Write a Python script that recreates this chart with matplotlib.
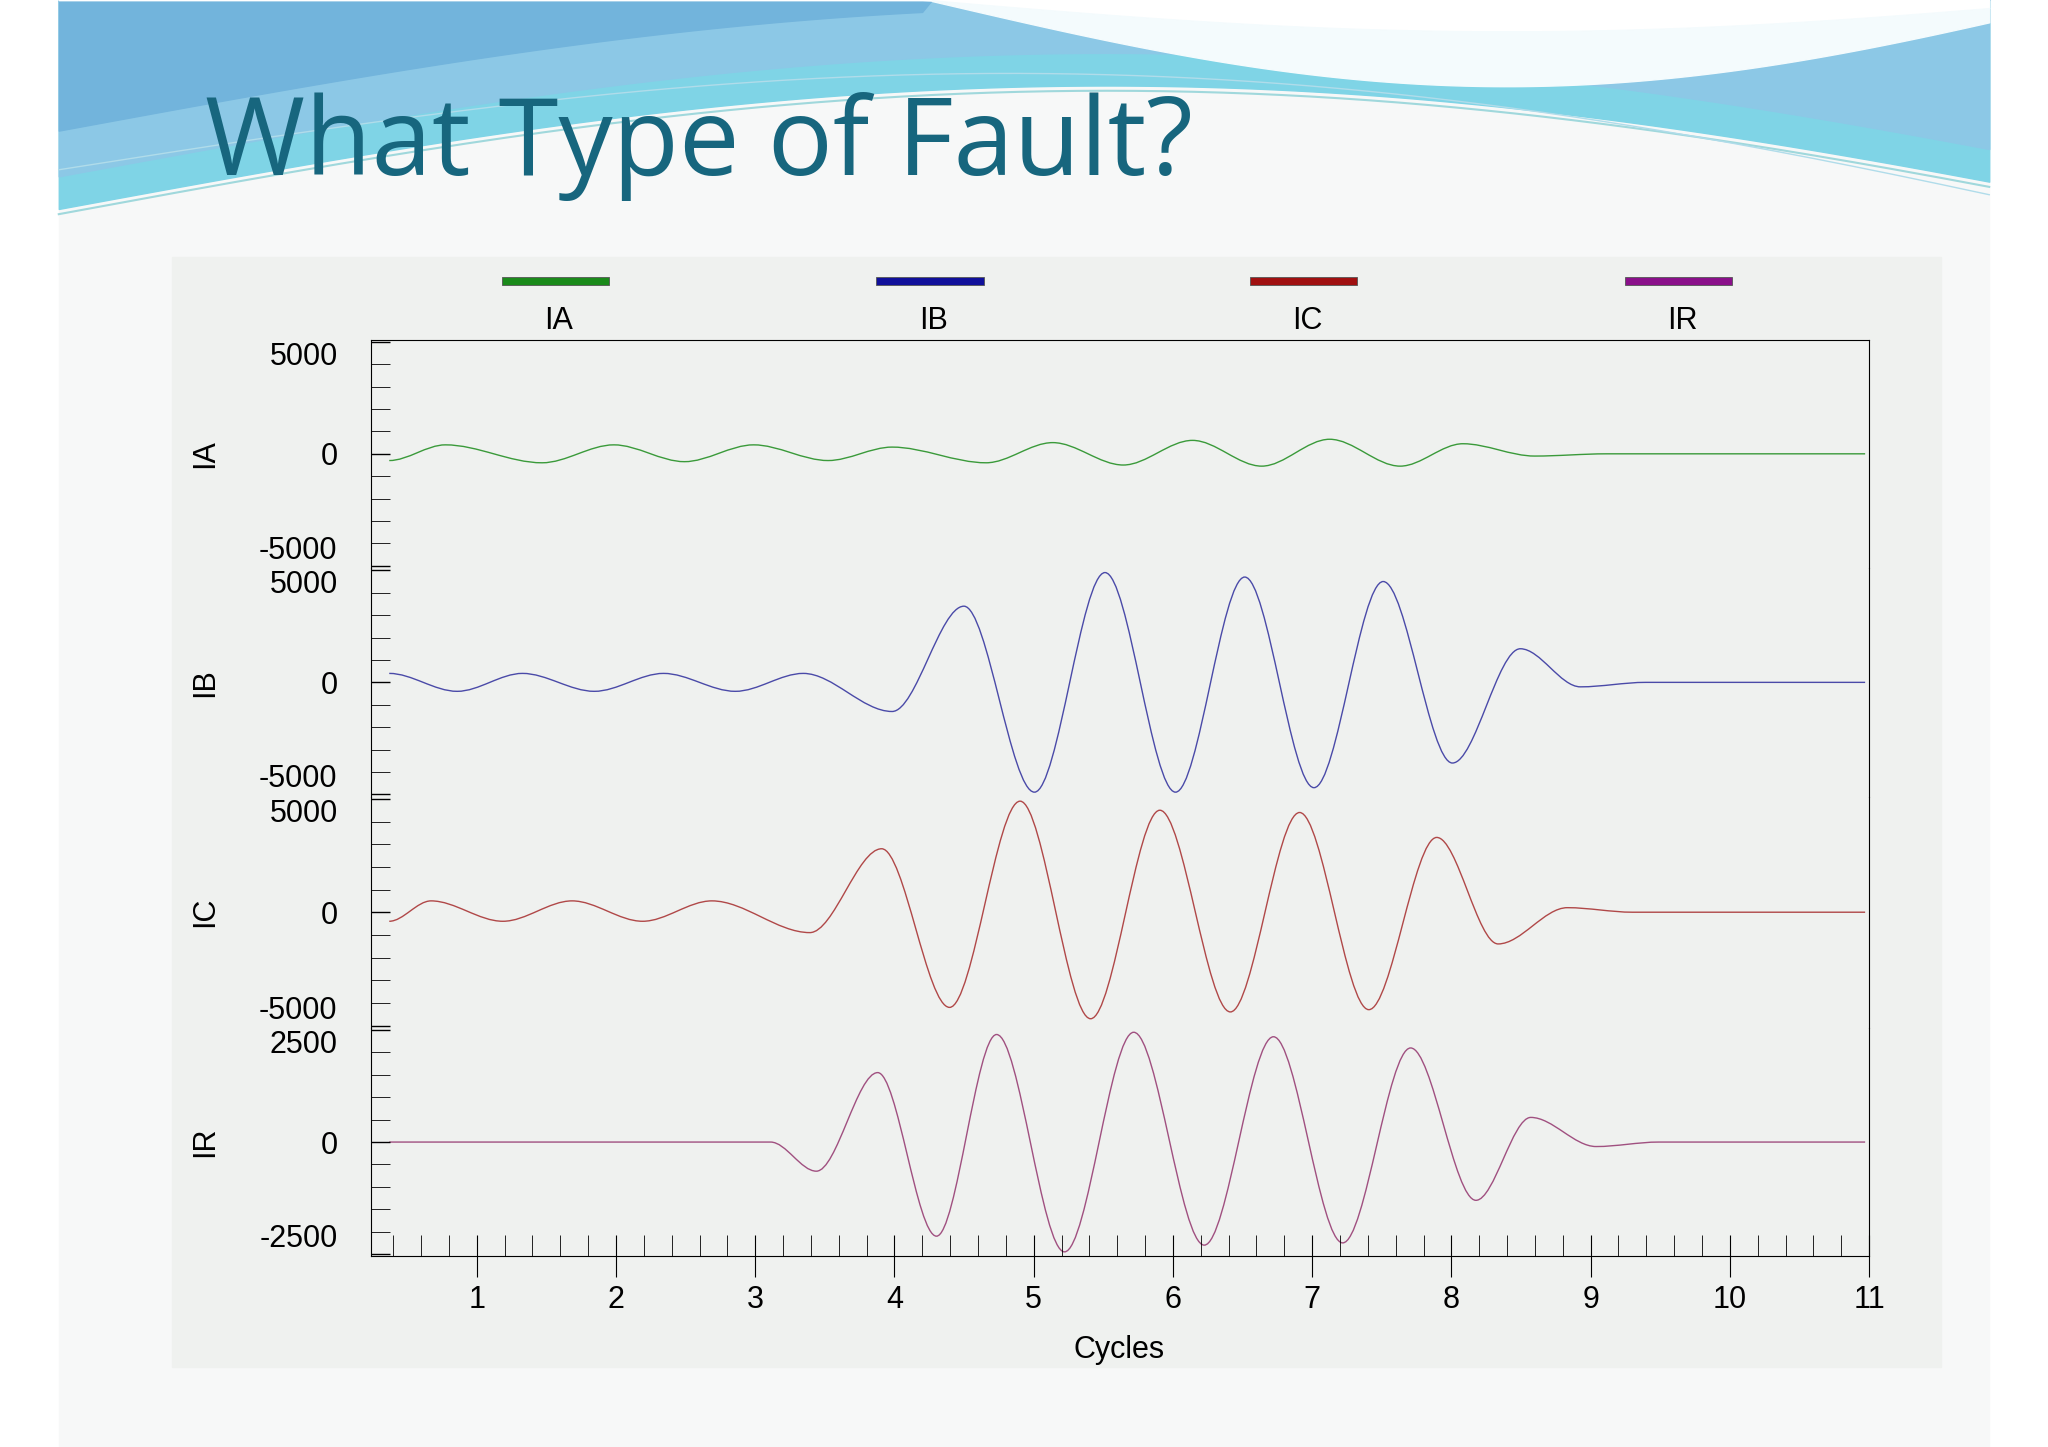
import numpy as np
import matplotlib
matplotlib.use('Agg')
import matplotlib.pyplot as plt
from matplotlib.path import Path
from matplotlib.patches import PathPatch, Rectangle

# ---------------- data: waveform extremes (pixel x -> cycles) ----------------
PX0, PXC = 258.4, 106.6  # picture px of cycle 0, px per cycle

ia_px = [298, 341, 415, 470, 524, 577, 634, 683, 755, 806, 860, 913, 966, 1018, 1072, 1120, 1175, 1230, 1428]
ia_val = [-300, 400, -400, 400, -350, 400, -300, 300, -400, 500, -500, 600, -550, 650, -550, 450, -100, 0, 0]

ib_px = [298, 350, 400, 455, 508, 563, 615, 683, 738, 792, 846, 900, 953, 1006, 1059, 1112, 1164, 1210, 1260, 1428]
ib_val = [400, -400, 400, -400, 400, -400, 400, -1300, 3400, -4900, 4900, -4900, 4700, -4700, 4500, -3600, 1500, -200, 0, 0]

ic_px = [298, 330, 385, 438, 492, 545, 620, 675, 727, 781, 835, 888, 942, 995, 1048, 1100, 1147, 1200, 1250, 1428]
ic_val = [-400, 500, -400, 500, -400, 500, -900, 2800, -4200, 4900, -4700, 4500, -4400, 4400, -4300, 3300, -1400, 200, 0, 0]

ir_px = [298, 590, 625, 672, 717, 763, 815, 868, 922, 975, 1028, 1080, 1130, 1172, 1222, 1270, 1428]
ir_val = [0, 0, -650, 1550, -2100, 2400, -2450, 2450, -2300, 2350, -2250, 2100, -1300, 550, -100, 0, 0]

names = ['IA', 'IB', 'IC', 'IR']
colors = ['#3a9a3a', '#4a4aa8', '#b04848', '#a05080']
legend_colors = ['#1a8a1a', '#10109a', '#a01010', '#8a108a']
limits = [5000, 5000, 5000, 2500]
series = [(ia_px, ia_val), (ib_px, ib_val), (ic_px, ic_val), (ir_px, ir_val)]


def smooth_path(xs, ys):
    # cubic Bezier between extremes with flat tangents
    verts = [(xs[0], ys[0])]
    codes = [Path.MOVETO]
    for i in range(1, len(xs)):
        dx = xs[i] - xs[i - 1]
        verts += [(xs[i - 1] + dx / 3, ys[i - 1]), (xs[i] - dx / 3, ys[i]), (xs[i], ys[i])]
        codes += [Path.CURVE4] * 3
    return Path(verts, codes)


W, H = 1568, 1108
fig = plt.figure(figsize=(20.48, 14.47), dpi=100)
plt.rcParams['font.family'] = ['Liberation Sans', 'DejaVu Sans']

# ---------------- slide background ----------------
bg = fig.add_axes([0, 0, 1, 1])
bg.set_xlim(0, W)
bg.set_ylim(H, 0)
bg.axis('off')
bg.add_patch(Rectangle((45, 0), 1478, H, color='#f7f8f8', zorder=0))
xx = np.linspace(45, 1523, 200)
u = (xx - 45) / 1478
wave_low = 160 - 100 * np.sin(np.pi * u * 0.9) + 10 * u
bg.fill_between(xx, 0, wave_low, color='#7fd4e6', zorder=1)
bg.fill_between(xx, 0, np.maximum(wave_low - 25, 0), color='#8cc8e6', zorder=1)
bg.fill_between(xx, 0, np.maximum(wave_low - 60, 0) * (u < 0.45), color='#72b4dc', zorder=1)
sweep_top = np.clip(120 * np.sin(np.pi * (u - 0.45) / 0.6), 0, None) * (u > 0.45) * (u < 1.05)
bg.fill_between(xx, 0, sweep_top * 0.2, color='#ffffff', zorder=2)
bg.fill_between(xx, sweep_top * 0.2, sweep_top * 0.55, where=u > 0.45, color='#f4fbfd', zorder=2)
bg.plot(xx, wave_low + 4, color='#a0d8dc', lw=1.5, zorder=2)
bg.plot(xx, wave_low - 30 + 40 * u, color='#b0dcea', lw=1.0, zorder=2)
bg.text(157, 112, 'What Type of Fault?', fontsize=78, color='#17667e',
        family=['Open Sans', 'DejaVu Sans'], va='center', ha='left', zorder=3)
bg.add_patch(Rectangle((132, 197), 1354, 850, color='#eff1ef', zorder=1))

# legend bars
for cx, nm, lc in zip([425, 712, 998, 1285], names, legend_colors):
    bg.add_patch(Rectangle((cx - 41, 212), 82, 6, facecolor=lc, edgecolor='#555555', lw=0.6, zorder=3))
    bg.text(cx + 3, 246, nm, fontsize=22, ha='center', va='center', zorder=3)
bg.text(857, 1034, 'Cycles', fontsize=22, ha='center', va='center', zorder=3)

# ---------------- panels ----------------
left, right = 284 / W, 1431 / W
edges = [260, 435, 610, 787, 962]
for k in range(4):
    top = 1 - edges[k] / H
    bot = 1 - edges[k + 1] / H
    ax = fig.add_axes([left, bot, right - left, top - bot])
    ax.patch.set_alpha(0)
    lim = limits[k]
    ax.set_ylim(-lim * 1.02, lim * 1.02)
    ax.set_xlim(0.24, 11)
    xs = [(p - PX0) / PXC for p in series[k][0]]
    ax.add_patch(PathPatch(smooth_path(xs, series[k][1]), fill=False, edgecolor=colors[k], lw=1.0))
    ax.set_yticks([-lim, 0, lim])
    labs = ax.set_yticklabels([f'{-lim}', '0', f'{lim}'])
    labs[0].set_va('bottom')
    labs[2].set_va('top')
    ax.set_yticks(np.linspace(-lim, lim, 11), minor=True)
    ax.tick_params(axis='y', labelsize=22, length=14, width=1, direction='in', pad=24)
    ax.tick_params(axis='y', which='minor', length=14, direction='in')
    ax.set_ylabel(names[k], fontsize=22, labelpad=28)
    ax.spines['top'].set_visible(k == 0)
    ax.spines['right'].set_visible(True)
    ax.spines['bottom'].set_visible(k == 3)
    if k == 3:
        ax.set_xticks(range(1, 12))
        ax.set_xticks(np.arange(0.4, 11.01, 0.2), minor=True)
        ax.tick_params(axis='x', labelsize=22, length=30, direction='inout', pad=6)
        ax.tick_params(axis='x', which='minor', length=15, direction='in')
    else:
        ax.set_xticks([])

fig.savefig('out.png', dpi=100)
